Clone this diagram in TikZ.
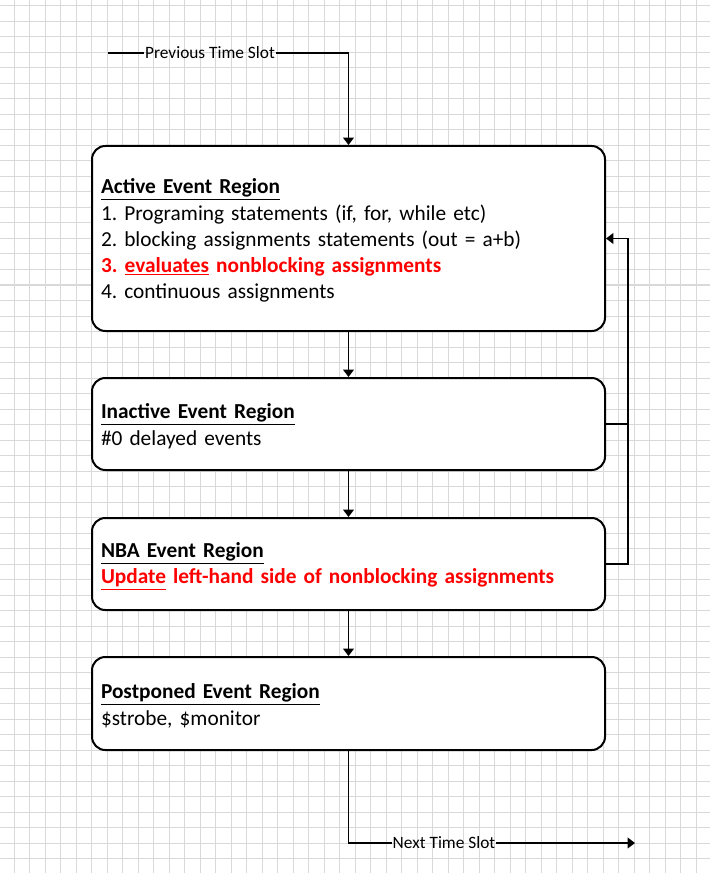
\documentclass[tikz,border=0pt]{standalone}
\usepackage{fontspec}
\setmainfont{Carlito}
\usetikzlibrary{arrows.meta}
\definecolor{gridgray}{HTML}{D9D9D9}
\newcommand\regiontitle[1]{\rule{0pt}{14.6pt}\textbf{\underline{#1}}}
\begin{document}
\frenchspacing
\begin{tikzpicture}[x=0.75pt,y=-0.75pt,
    region/.style={draw,line width=1.5pt,rounded corners=10pt,fill=white,
      minimum width=384.75pt,text width=371.25pt,inner xsep=6.75pt,align=left,
      font=\fontsize{16}{19.7}\selectfont},
    conn/.style={line width=1.1pt},
    arr/.style={conn,-{Triangle[length=5.5pt,width=8pt]}},
    slot/.style={inner sep=0.5pt,font=\fontsize{13}{15}\selectfont}]
                \useasboundingbox (0,0) rectangle (710,873);
                \foreach \i in {0,...,44}
                  \draw[gridgray,line width=0.75pt] (14.3+15.5*\i,0) -- (14.3+15.5*\i,873);
                \foreach \j in {0,...,55}
                  \draw[gridgray,line width=0.75pt] (0,6+15.5*\j) -- (710,6+15.5*\j);

                \node[region,minimum height=138.75pt] (active) at (348.5,238.5) {\regiontitle{Active Event Region}\\
                  1. Programing statements (if, for, while etc)\\
                  2. blocking assignments statements (out = a+b)\\
                  {\color{red}\bfseries 3. \underline{evaluates} nonblocking assignments}\\
                  4. continuous assignments};
                \node[region,minimum height=69pt] (inactive) at (348.5,424) {\regiontitle{Inactive Event Region}\\
                  \#0 delayed events};
                \node[region,minimum height=69pt] (nba) at (348.5,564) {\regiontitle{NBA Event Region}\\
                  {\color{red}\bfseries \underline{Update} left-hand side of nonblocking assignments}};
                \node[region,minimum height=69.75pt] (postponed) at (348.5,703.5) {\regiontitle{Postponed Event Region}\\
                  \$strobe, \$monitor};

                \coordinate (prevstart) at (108,53);
                \node[slot] (prevlbl) at (210,53) {Previous Time Slot};
                \node[slot] (nextlbl) at (444,843) {Next Time Slot};
                \coordinate (nextend) at (635,843);
                \coordinate (fbbot) at (628,564);
                \coordinate (fbtop) at (628,238.5);

                \draw[conn] (prevstart) -- (prevlbl.west);
                \draw[arr] (prevlbl.east) -| (active.north);
                \draw[arr] (active.south) -- (inactive.north);
                \draw[arr] (inactive.south) -- (nba.north);
                \draw[arr] (nba.south) -- (postponed.north);
                \draw[conn] (postponed.south) |- (nextlbl.west);
                \draw[arr] (nextlbl.east) -- (nextend);
                \draw[arr] (nba.east) -- (fbbot) -- (fbtop) -- (active.east);
                \draw[conn] (inactive.east) -- (inactive.east -| fbbot);
            \end{tikzpicture}
\end{document}
